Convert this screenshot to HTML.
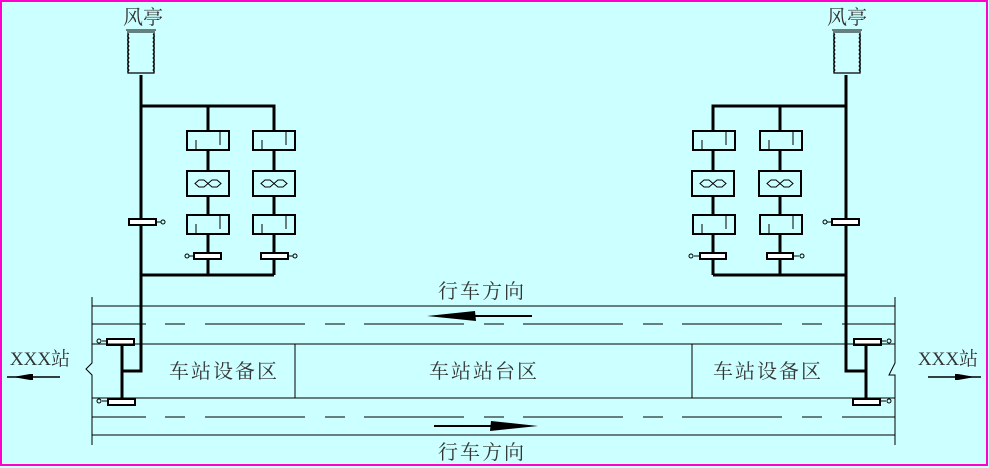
<!DOCTYPE html>
<html><head><meta charset="utf-8"><style>
html,body{margin:0;padding:0;background:#ccffff}
svg{display:block}
text{font-family:"Liberation Serif","Noto Serif CJK SC","Noto Sans CJK SC",serif;fill:#333}
</style></head><body>
<svg width="989" height="468" viewBox="0 0 989 468" xmlns="http://www.w3.org/2000/svg">
<defs>
<g id="dmp">
<rect x="0" y="0" width="42" height="19" fill="none" stroke="#000" stroke-width="2"/>
<line x1="9" y1="9" x2="9" y2="19" stroke="#000" stroke-width="1"/>
<line x1="33" y1="1" x2="33" y2="14" stroke="#000" stroke-width="1"/>
</g>
<g id="fan">
<rect x="0" y="0" width="42" height="25" fill="none" stroke="#000" stroke-width="2"/>
<path d="M8,12.5 L12,9 L17,9 L21,12.5 L25,9 L30,9 L34,12.5 L30,16 L25,16 L21,12.5 L17,16 L12,16 Z" fill="none" stroke="#000" stroke-width="1"/>
</g>
<g id="tower">
<line x1="0" y1="0" x2="30" y2="0" stroke="#000" stroke-width="1"/>
<line x1="1" y1="2" x2="29" y2="2" stroke="#000" stroke-width="1"/>
<path d="M2,3 v40 h26 v-40" fill="none" stroke="#000" stroke-width="1.3"/>
<path d="M3,4 l-1.5,2 l1.5,2 l-1.5,2 l1.5,2 l-1.5,2 l1.5,2 l-1.5,2 l1.5,2 l-1.5,2 l1.5,2 l-1.5,2 l1.5,2 l-1.5,2 l1.5,2 l-1.5,2 l1.5,2 l-1.5,2 l1.5,2 l-1.5,2" fill="none" stroke="#000" stroke-width="1"/>
<path d="M27,4 l1.5,2 l-1.5,2 l1.5,2 l-1.5,2 l1.5,2 l-1.5,2 l1.5,2 l-1.5,2 l1.5,2 l-1.5,2 l1.5,2 l-1.5,2 l1.5,2 l-1.5,2 l1.5,2 l-1.5,2 l1.5,2 l-1.5,2 l1.5,2" fill="none" stroke="#000" stroke-width="1"/>
</g>
</defs>
<rect x="1" y="1" width="986" height="464" fill="#ccffff" stroke="#ff00cc" stroke-width="2"/>

<!-- LEFT system -->
<text x="143" y="24" font-size="20" text-anchor="middle">风亭</text>
<use href="#tower" x="126" y="30"/>
<g stroke="#000" stroke-width="3" fill="none">
<path d="M141,75 V371 H122"/>
<path d="M141,106 H274 V131 M208,106 V131"/>
<path d="M208,150 V170 M274,150 V170 M208,196 V215 M274,196 V215 M208,234 V275 M274,234 V275 M141,275 H274"/>
<line x1="122" y1="341" x2="122" y2="401"/>
</g>
<use href="#dmp" x="187" y="131"/><use href="#dmp" x="253" y="131"/>
<use href="#fan" x="187" y="171"/><use href="#fan" x="253" y="171"/>
<use href="#dmp" x="187" y="215"/><use href="#dmp" x="253" y="215"/>
<g fill="#fff" stroke="#000" stroke-width="2">
<rect x="129" y="219" width="27" height="6"/>
<rect x="194" y="253" width="27" height="6"/>
<rect x="261" y="253" width="27" height="6"/>
<rect x="107" y="339" width="27" height="6"/>
<rect x="108" y="399" width="27" height="6"/>
</g>
<g stroke="#000" stroke-width="1" fill="#ccffff">
<line x1="156" y1="222" x2="161" y2="222"/><circle cx="163" cy="222" r="2"/>
<line x1="189" y1="256" x2="194" y2="256"/><circle cx="187" cy="256" r="2"/>
<line x1="288" y1="256" x2="293" y2="256"/><circle cx="295" cy="256" r="2"/>
<line x1="102" y1="341" x2="107" y2="341"/><circle cx="99" cy="341" r="2"/>
<line x1="102" y1="401" x2="108" y2="401"/><circle cx="99" cy="401" r="2"/>
</g>

<!-- RIGHT system -->
<text x="847" y="24" font-size="20" text-anchor="middle">风亭</text>
<use href="#tower" x="832" y="30"/>
<g stroke="#000" stroke-width="3" fill="none">
<path d="M846,75 V371 H866"/>
<path d="M846,106 H713 V131 M780,106 V131"/>
<path d="M713,150 V170 M780,150 V170 M713,196 V215 M780,196 V215 M713,234 V275 M780,234 V275 M846,275 H713"/>
<line x1="866" y1="341" x2="866" y2="401"/>
</g>
<use href="#dmp" x="693" y="131"/><use href="#dmp" x="760" y="131"/>
<use href="#fan" x="692" y="171"/><use href="#fan" x="759" y="171"/>
<use href="#dmp" x="693" y="215"/><use href="#dmp" x="760" y="215"/>
<g fill="#fff" stroke="#000" stroke-width="2">
<rect x="832" y="219" width="27" height="6"/>
<rect x="700" y="253" width="26" height="6"/>
<rect x="767" y="253" width="26" height="6"/>
<rect x="854" y="339" width="27" height="6"/>
<rect x="853" y="399" width="27" height="6"/>
</g>
<g stroke="#000" stroke-width="1" fill="#ccffff">
<line x1="827" y1="222" x2="832" y2="222"/><circle cx="825" cy="222" r="2"/>
<line x1="694" y1="256" x2="700" y2="256"/><circle cx="691" cy="256" r="2"/>
<line x1="793" y1="256" x2="799" y2="256"/><circle cx="802" cy="256" r="2"/>
<line x1="881" y1="341" x2="886" y2="341"/><circle cx="889" cy="341" r="2"/>
<line x1="880" y1="401" x2="886" y2="401"/><circle cx="889" cy="401" r="2"/>
</g>

<!-- Track area -->
<g stroke="#000" stroke-width="1" fill="none">
<line x1="92" y1="306" x2="895" y2="306"/>
<line x1="92" y1="344" x2="895" y2="344"/>
<line x1="92" y1="398" x2="895" y2="398"/>
<line x1="92" y1="435" x2="895" y2="435"/>
<path d="M92,297 V363 L86,369 L92,375 V445"/>
<path d="M895,297 V363 L889,375 H895 V445"/>
<line x1="295" y1="344" x2="295" y2="398"/>
<line x1="692" y1="344" x2="692" y2="398"/>
<path d="M92,324 H146 M165,324 H185 M205,324 H305 M325,324 H345 M364,324 H464 M484,324 H504 M523,324 H623 M643,324 H663 M682,324 H782 M802,324 H822 M842,324 H895"/>
<path d="M92,417 H146 M165,417 H185 M205,417 H305 M325,417 H345 M364,417 H464 M484,417 H504 M523,417 H623 M643,417 H663 M682,417 H782 M802,417 H822 M842,417 H895"/>
</g>
<!-- direction arrows -->
<line x1="450" y1="316" x2="532" y2="316" stroke="#000" stroke-width="2"/>
<path d="M427,316 L475,311 L476,321 Z" fill="#000"/>
<line x1="434" y1="426" x2="515" y2="426" stroke="#000" stroke-width="2"/>
<path d="M538,426 L491,421 L490,431 Z" fill="#000"/>
<!-- station arrows -->
<line x1="7" y1="377" x2="60" y2="377" stroke="#000" stroke-width="1.5"/>
<path d="M13,377 L30,374 L33,374 L33,380 L30,380 Z" fill="#000"/>
<line x1="928" y1="377" x2="981" y2="377" stroke="#000" stroke-width="1.5"/>
<path d="M975,377 L958,374 L955,374 L955,380 L958,380 Z" fill="#000"/>

<g font-size="20" text-anchor="middle" letter-spacing="2">
<text x="482" y="298">行车方向</text>
<text x="482" y="459">行车方向</text>
<text x="224" y="378">车站设备区</text>
<text x="484" y="378">车站站台区</text>
<text x="768" y="378">车站设备区</text>
</g>
<g font-size="19" text-anchor="middle">
<text x="40" y="365">XXX站</text>
<text x="948" y="365">XXX站</text>
</g>
</svg>
</body></html>
